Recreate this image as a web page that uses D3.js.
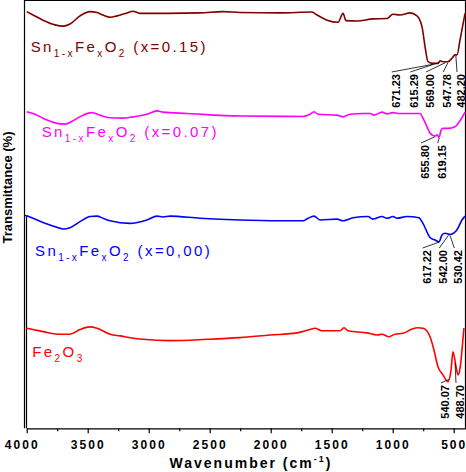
<!DOCTYPE html>
<html><head><meta charset="utf-8">
<script src="https://cdn.jsdelivr.net/npm/d3@7"></script>
<style>
html,body{margin:0;padding:0;background:#fff;}
svg{display:block;font-family:"Liberation Sans",Arial,sans-serif;}
</style></head>
<body>
<svg id="chart" width="466" height="472"></svg>
<script>
// ---------- DATA ----------
const xTicks = [4000, 3500, 3000, 2500, 2000, 1500, 1000, 500];
const xMinorTicks = [3750, 3250, 2750, 2250, 1750, 1250, 750];

// Sn1-xFexO2 (x=0.15)
const wnS15 = [4000,3948,3866,3768,3702,3645,3563,3481,3424,3375,3317,3260,3178,3129,3071,2850,2580,2391,2252,1924,1661,1620,1538,1448,1407,1383,1293,1162,1047,998,940,858,801,760,735,711,670,629,612,588,547,514,489,473,448,407];
const tS15 = [97.4,96.6,95.4,94.3,94.0,94.5,96.4,97.4,97.2,96.6,96.1,96.4,97.1,97.5,97.0,97.0,97.1,97.4,97.2,97.1,97.3,96.6,95.4,94.9,97.0,95.3,95.2,95.7,95.8,96.8,96.6,97.1,96.4,93.9,89.2,85.7,85.3,85.3,85.9,85.7,85.7,86.5,87.3,87.3,90.8,97.0];
const peaksS15 = [671.23, 615.29, 569.00, 547.78, 482.20];

// Sn1-xFexO2 (x=0.07)
const wnS07 = [4000,3948,3866,3768,3686,3620,3538,3464,3399,3317,3211,3129,3014,2932,2883,2686,2252,1735,1678,1645,1612,1456,1407,1350,1243,1186,1153,1088,1047,998,956,776,752,719,694,653,637,620,604,588,547,489,448,407];
const tS07 = [74.0,73.6,72.5,71.4,71.1,71.9,73.2,73.8,73.2,72.6,72.5,72.8,73.4,74.2,73.9,73.6,73.0,72.9,73.4,74.0,73.4,73.2,72.8,73.4,73.6,73.6,73.2,73.9,73.5,73.8,73.6,73.6,72.5,70.5,69.0,68.3,68.6,68.0,69.7,70.1,70.1,70.5,71.9,73.9];
const peaksS07 = [655.80, 619.15];

// Sn1-xFexO2 (x=0,00)
const wnS00 = [4000,3948,3866,3784,3702,3645,3563,3481,3424,3375,3317,3153,3014,2932,2883,2826,2580,2252,1735,1694,1645,1596,1456,1407,1325,1202,1162,1088,1047,998,965,883,785,752,694,653,620,596,571,530,473,432,407];
const tS00 = [49.7,49.1,48.1,47.3,46.6,46.9,48.3,49.5,49.6,49.1,48.5,47.9,48.7,49.6,49.4,49.6,49.1,48.7,48.5,49.1,49.6,48.7,48.9,48.5,49.2,49.5,48.9,49.5,49.1,49.5,49.1,49.5,49.2,47.9,44.6,44.0,43.6,45.2,45.6,45.3,46.4,48.7,49.6];
const peaksS00 = [617.22, 542.00, 530.42];

// Fe2O3
const wnFe = [4000,3948,3866,3743,3645,3563,3481,3424,3317,3235,3047,2826,2523,2252,2006,1785,1678,1637,1579,1432,1399,1366,1211,1129,1088,1030,981,916,842,793,752,694,662,629,588,547,522,506,481,465,448,432,416];
const tFe = [23.4,23.1,22.6,22.0,22.0,23.1,23.7,23.4,22.0,21.6,20.8,20.5,20.8,21.2,21.8,22.3,23.1,23.4,22.8,22.8,23.5,22.8,22.3,21.8,22.0,21.4,22.0,22.2,23.2,23.5,23.4,21.4,18.3,14.4,12.5,10.9,13.6,17.9,14.4,12.5,14.0,18.3,23.4];
const peaksFe = [540.07, 488.70];

// ---------- LAYOUT / STYLE (not data) ----------
const series = [
  {wn: wnS15, t: tS15, peaks: peaksS15, color: "#800000", name: [["Sn",0],["1-x",1],["Fe",0],["x",1],["O",0],["2",1],[" (x=0.15)",0]],
   lx: 30.7, ly: 51.7, peakX: [395.7, 414.3, 430, 447.3, 461], peakTop: 74},
  {wn: wnS07, t: tS07, peaks: peaksS07, color: "#ff00ff", name: [["Sn",0],["1-x",1],["Fe",0],["x",1],["O",0],["2",1],[" (x=0.07)",0]],
   lx: 41.7, ly: 137.3, peakX: [425, 441.7], peakTop: 145},
  {wn: wnS00, t: tS00, peaks: peaksS00, color: "#0000ff", name: [["Sn",0],["1-x",1],["Fe",0],["x",1],["O",0],["2",1],[" (x=0,00)",0]],
   lx: 35, ly: 256, peakX: [426.7, 443.3, 458.3], peakTop: 250},
  {wn: wnFe, t: tFe, peaks: peaksFe, color: "#ff0000", name: [["Fe",0],["2",1],["O",0],["3",1]],
   lx: 32.3, ly: 356.7, peakX: [445, 460], peakTop: 385}
];

const svg = d3.select("#chart");
const x = d3.scaleLinear().domain([4000, 400]).range([26.7, 465.9]);
const y = d3.scaleLinear().domain([0, 100]).range([428.3, 0.5]);

function interp(wns, vals, w) {
  for (let i = 0; i < wns.length - 1; i++) {
    const a = wns[i], b = wns[i + 1];
    if ((w <= a && w >= b)) {
      const f = (a - w) / (a - b);
      return vals[i] + f * (vals[i + 1] - vals[i]);
    }
  }
  return vals[vals.length - 1];
}

// frame
svg.append("path")
  .attr("d", "M24.5,428.3 V215.5 M24.5,215.5 H26.5 M24.5,215.5 V0.5 H465.5 V428.3")
  .attr("fill", "none").attr("stroke", "#000").attr("stroke-width", 1.2);
svg.append("path")
  .attr("d", "M26.5,215.5 V428.3")
  .attr("fill", "none").attr("stroke", "#000").attr("stroke-width", 1.2);

// x axis
const xAxis = svg.append("g").attr("transform", "translate(0,428.3)")
  .call(d3.axisBottom(x).tickValues(xTicks).tickSize(5).tickSizeOuter(0).tickPadding(7).tickFormat(d3.format("d")));
xAxis.select(".domain").attr("stroke-width", 1.2);
xAxis.selectAll(".tick line").attr("stroke-width", 1.2);
xAxis.selectAll("text").attr("font-size", 12).attr("font-weight", "bold")
  .attr("letter-spacing", "2px").attr("font-family", "Liberation Sans, Arial, sans-serif").attr("fill", "#000");
xAxis.selectAll(".tick").filter(d => d === 4000).select("text").attr("dx", -5);
const xMinor = svg.append("g").attr("transform", "translate(0,428.3)")
  .call(d3.axisBottom(x).tickValues(xMinorTicks).tickSize(3).tickSizeOuter(0).tickFormat(""));
xMinor.select(".domain").remove();
xMinor.selectAll(".tick line").attr("stroke-width", 1.2);

// axis labels
const xl = svg.append("text").attr("x", 251).attr("y", 467.5).attr("text-anchor", "middle")
  .attr("font-size", 14).attr("font-weight", "bold").attr("letter-spacing", "2px");
xl.append("tspan").text("Wavenumber (cm");
xl.append("tspan").attr("font-size", 9).attr("dy", -6).text("-1");
xl.append("tspan").attr("dy", 6).text(")");

svg.append("text").attr("transform", "translate(11.5,187.5) rotate(-90)")
  .attr("text-anchor", "middle").attr("font-size", 13).attr("font-weight", "bold")
  .text("Transmittance (%)");

// curves
const line = d3.line().x(d => x(d[0])).y(d => y(d[1])).curve(d3.curveMonotoneX);
series.forEach(s => {
  const pts = s.wn.map((w, i) => [w, s.t[i]]);
  svg.append("path").datum(pts).attr("d", line)
    .attr("fill", "none").attr("stroke", s.color).attr("stroke-width", 1.6)
    .attr("stroke-linejoin", "round");

  // series label
  const txt = svg.append("text").attr("x", s.lx).attr("y", s.ly)
    .attr("font-size", 15).attr("letter-spacing", "2.4px").attr("fill", s.color);
  let shifted = false;
  s.name.forEach(([str, sub]) => {
    const ts = txt.append("tspan").text(str).attr("xml:space", "preserve");
    if (sub && !shifted) { ts.attr("font-size", 10).attr("dy", 5); shifted = true; }
    else if (sub && shifted) { ts.attr("font-size", 10); }
    else if (!sub && shifted) { ts.attr("dy", -5); shifted = false; }
  });
  txt.style("white-space", "pre");

  // peak labels
  s.peaks.forEach((p, i) => {
    const lxp = s.peakX[i];
    const tx = x(p), ty = y(interp(s.wn, s.t, p));
    svg.append("line").attr("x1", lxp - 4).attr("y1", s.peakTop - 2)
      .attr("x2", tx).attr("y2", ty + 1)
      .attr("stroke", "#000").attr("stroke-width", 0.8);
    svg.append("text").attr("transform", `translate(${lxp},${s.peakTop}) rotate(-90)`)
      .attr("text-anchor", "end").attr("dy", "0.35em")
      .attr("font-size", 11).attr("font-weight", "bold").attr("fill", "#000")
      .text(p.toFixed(2));
  });
});
</script>
</body></html>
